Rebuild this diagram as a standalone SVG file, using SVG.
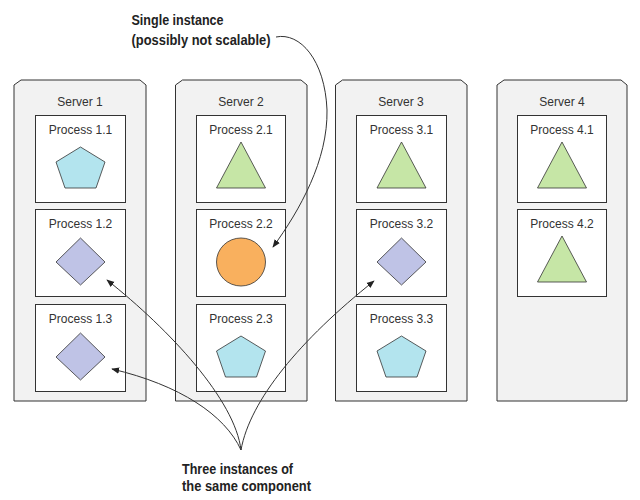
<svg xmlns="http://www.w3.org/2000/svg" width="640" height="500" viewBox="0 0 640 500">
<style>
.srv{fill:#f2f2f2;stroke:#333;stroke-width:1}
.proc{fill:#fff;stroke:#333;stroke-width:1}
.lbl{font-family:"Liberation Sans",Arial,sans-serif;font-size:12px;fill:#333;text-anchor:middle}
.pent{fill:#b3e4ee;stroke:#333;stroke-width:0.8}
.tri{fill:#c6e6a6;stroke:#333;stroke-width:0.8}
.dia{fill:#bfc3e6;stroke:#333;stroke-width:0.8}
.circ{fill:#f9b05e;stroke:#333;stroke-width:0.8}
.note{font-family:"Liberation Sans",Arial,sans-serif;font-size:14.5px;font-weight:bold;fill:#222}
.conn{fill:none;stroke:#333;stroke-width:1}
</style>
<defs>
<marker id="ah" viewBox="0 0 10 10" refX="9" refY="5" markerWidth="8" markerHeight="8" markerUnits="userSpaceOnUse" orient="auto">
<path d="M0,1 L10,5 L0,9 Z" fill="#222"/>
</marker>
<polygon id="pentS" points="0,0 24.5,15 15.5,41 -15.5,41 -24.5,15"/>
<polygon id="triS" points="0,0 24.5,46 -24.5,46"/>
<polygon id="diaS" points="0,0 24.5,24 0,47 -24.5,24"/>
</defs>

<g id="server1">
<path class="srv" d="M14,85 L21,80 L140,80 L146,85 L146,401 L14,401 Z"/>
<text class="lbl" x="80" y="106">Server 1</text>
</g>
<g id="server2">
<path class="srv" d="M175.5,85 L182.5,80 L301,80 L307,85 L307,401 L175.5,401 Z"/>
<text class="lbl" x="241" y="106">Server 2</text>
</g>
<g id="server3">
<path class="srv" d="M335.5,85 L342.5,80 L461,80 L467,85 L467,401 L335.5,401 Z"/>
<text class="lbl" x="401" y="106">Server 3</text>
</g>
<g id="server4">
<path class="srv" d="M497,85 L504,80 L621,80 L627,85 L627,401 L497,401 Z"/>
<text class="lbl" x="562" y="106">Server 4</text>
</g>

<g id="p11">
<rect class="proc" x="35.5" y="115.5" width="90" height="87"/>
<text class="lbl" x="80.5" y="134">Process 1.1</text>
<use href="#pentS" class="pent" x="80.5" y="147"/>
</g>
<g id="p12">
<rect class="proc" x="35.5" y="209.5" width="90" height="87"/>
<text class="lbl" x="80.5" y="228">Process 1.2</text>
<use href="#diaS" class="dia" x="80.5" y="238"/>
</g>
<g id="p13">
<rect class="proc" x="35.5" y="304.5" width="90" height="87"/>
<text class="lbl" x="80.5" y="323">Process 1.3</text>
<use href="#diaS" class="dia" x="80.5" y="333"/>
</g>

<g id="p21">
<rect class="proc" x="196.5" y="115.5" width="89" height="87"/>
<text class="lbl" x="241" y="134">Process 2.1</text>
<use href="#triS" class="tri" x="241" y="142"/>
</g>
<g id="p22">
<rect class="proc" x="196.5" y="209.5" width="89" height="87"/>
<text class="lbl" x="241" y="228">Process 2.2</text>
<ellipse class="circ" cx="241" cy="262" rx="24.5" ry="24"/>
</g>
<g id="p23">
<rect class="proc" x="196.5" y="304.5" width="89" height="87"/>
<text class="lbl" x="241" y="323">Process 2.3</text>
<use href="#pentS" class="pent" x="241" y="336"/>
</g>

<g id="p31">
<rect class="proc" x="356.5" y="115.5" width="90" height="87"/>
<text class="lbl" x="401.5" y="134">Process 3.1</text>
<use href="#triS" class="tri" x="401.5" y="142"/>
</g>
<g id="p32">
<rect class="proc" x="356.5" y="209.5" width="90" height="87"/>
<text class="lbl" x="401.5" y="228">Process 3.2</text>
<use href="#diaS" class="dia" x="401.5" y="238"/>
</g>
<g id="p33">
<rect class="proc" x="356.5" y="304.5" width="90" height="87"/>
<text class="lbl" x="401.5" y="323">Process 3.3</text>
<use href="#pentS" class="pent" x="401.5" y="336"/>
</g>

<g id="p41">
<rect class="proc" x="517.5" y="115.5" width="89" height="87"/>
<text class="lbl" x="562" y="134">Process 4.1</text>
<use href="#triS" class="tri" x="562" y="142"/>
</g>
<g id="p42">
<rect class="proc" x="517.5" y="209.5" width="89" height="87"/>
<text class="lbl" x="562" y="228">Process 4.2</text>
<use href="#triS" class="tri" x="562" y="236"/>
</g>

<g id="note-single">
<text class="note" x="131.5" y="25" textLength="92" lengthAdjust="spacingAndGlyphs">Single instance</text>
<text class="note" x="131.5" y="44.5" textLength="139" lengthAdjust="spacingAndGlyphs">(possibly not scalable)</text>
</g>
<g id="note-three">
<text class="note" x="182" y="474" textLength="111" lengthAdjust="spacingAndGlyphs">Three instances of</text>
<text class="note" x="182" y="491" textLength="129" lengthAdjust="spacingAndGlyphs">the same component</text>
</g>

<g id="connectors">
<path class="conn" marker-end="url(#ah)" d="M276,37 C300,32 325,60 327,110 C328,160 300,210 273,247"/>
<path class="conn" marker-end="url(#ah)" d="M241,450 C235,400 170,330 107,280"/>
<path class="conn" marker-end="url(#ah)" d="M241,450 C225,415 180,385 112,369"/>
<path class="conn" marker-end="url(#ah)" d="M241,450 C250,400 300,340 374,281"/>
</g>
</svg>
